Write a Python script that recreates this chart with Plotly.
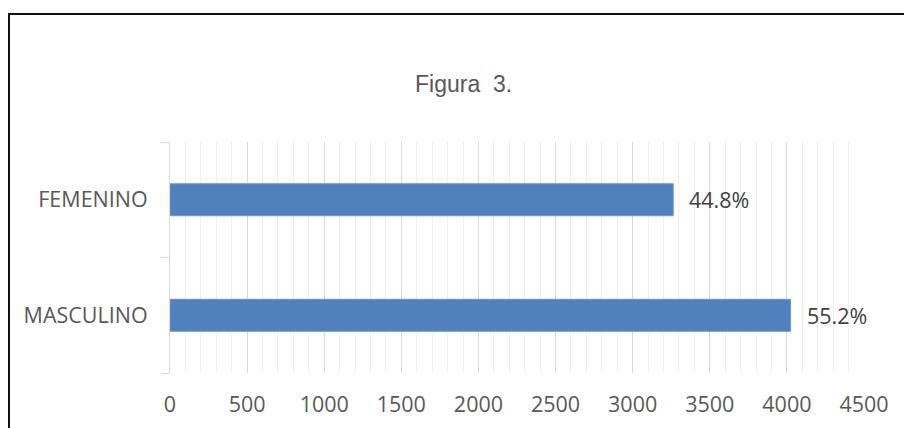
import plotly.graph_objects as go

# Respondents by sex
categories = ["MASCULINO", "FEMENINO"]
counts = [4024, 3263]
x_ticks = [0, 500, 1000, 1500, 2000, 2500, 3000, 3500, 4000, 4500]
title_text = "Figura\u00a0 3."

total = sum(counts)
pct_labels = [f"{c / total * 100:.1f}%" for c in counts]

W, H = 904, 428
ML, MR, MT, MB = 170, 40, 142, 55
PW, PH = W - ML - MR, H - MT - MB


def px_x(px):
    return (px - ML) / PW


def px_y(py):
    return (H - MB - py) / PH


BAR = "#4F81BD"
GRID = "#d9d9d9"
MINOR = "#f0f0f0"
TXT = "#595959"
LBL = "#404040"
FONT = "Open Sans"
FS = 21.5

fig = go.Figure(
    go.Bar(
        x=counts,
        y=categories,
        orientation="h",
        marker=dict(color=BAR, line=dict(color="#6f97cb", width=1)),
        hoverinfo="x+y",
    )
)

annotations = [
    dict(
        x=c, y=cat, xref="x", yref="y", text=t, showarrow=False,
        xanchor="left", yanchor="middle", xshift=14,
        font=dict(family=FONT, size=FS, color=LBL),
    )
    for c, cat, t in zip(counts, categories, pct_labels)
]
annotations.append(
    dict(
        x=px_x(463), y=px_y(84), xref="paper", yref="paper", text=title_text,
        showarrow=False, xanchor="center", yanchor="middle",
        font=dict(family="Liberation Sans, Arial", size=23, color=TXT),
    )
)

fig.update_layout(
    width=W,
    height=H,
    margin=dict(l=ML, r=MR, t=MT, b=MB, autoexpand=False),
    paper_bgcolor="white",
    plot_bgcolor="white",
    showlegend=False,
    bargap=0.723,
    annotations=annotations,
    shapes=[
        dict(
            type="rect", xref="paper", yref="paper",
            x0=px_x(9), x1=px_x(W + 20), y0=px_y(H + 20), y1=px_y(14),
            line=dict(color="#111111", width=2), fillcolor="rgba(0,0,0,0)",
            layer="above",
        )
    ],
    xaxis=dict(
        range=[0, 4500],
        tickvals=x_ticks,
        ticktext=[str(v) for v in x_ticks],
        showgrid=True,
        gridcolor=GRID,
        gridwidth=1,
        minor=dict(dtick=100, tick0=0, showgrid=True, gridcolor=MINOR, gridwidth=1),
        zeroline=False,
        showline=False,
        ticks="",
        tickfont=dict(family=FONT, size=FS, color=TXT),
        ticklabelstandoff=16,
        automargin=False,
        fixedrange=True,
    ),
    yaxis=dict(
        type="category",
        categoryorder="array",
        categoryarray=categories,
        tickson="boundaries",
        ticks="outside",
        ticklen=8,
        tickcolor=GRID,
        tickwidth=1,
        showline=True,
        linecolor=GRID,
        linewidth=1,
        showgrid=False,
        zeroline=False,
        tickfont=dict(family=FONT, size=FS, color=TXT),
        ticklabelstandoff=17,
        automargin=False,
        fixedrange=True,
    ),
)

fig.write_html("out.html")
